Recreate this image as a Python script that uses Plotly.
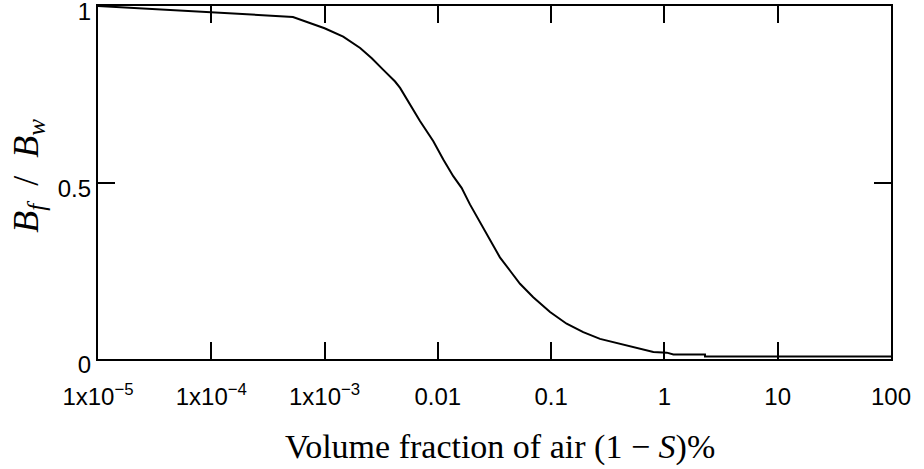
import plotly.graph_objects as go

# Curve data
air_fraction = [1e-5, 5.26e-4, 1.0e-3, 1.46e-3, 2.06e-3, 2.61e-3, 3.30e-3, 4.19e-3,
                4.64e-3, 5.68e-3, 6.95e-3, 9.12e-3, 1.117e-2,
                1.367e-2, 1.62e-2, 1.92e-2, 2.36e-2, 2.88e-2, 3.53e-2, 4.34e-2,
                5.31e-2, 6.95e-2, 9.78e-2, 0.137, 0.192, 0.270, 0.434, 0.608,
                0.798, 1.05, 1.20, 2.28, 2.28, 100]
bf_over_bw = [1.0, 0.969, 0.937, 0.913, 0.881, 0.852, 0.819, 0.786,
              0.768, 0.719, 0.674, 0.617, 0.565,
              0.518, 0.485, 0.438, 0.387, 0.335, 0.288, 0.250,
              0.213, 0.175, 0.133, 0.100, 0.076, 0.057, 0.040, 0.029,
              0.020, 0.018, 0.013, 0.013, 0.007, 0.007]

x_tick_vals = [1e-5, 1e-4, 1e-3, 0.01, 0.1, 1, 10, 100]
x_tick_text = ["1x10<sup>−5</sup>", "1x10<sup>−4</sup>", "1x10<sup>−3</sup>",
               "0.01", "0.1", "1", "10", "100"]
y_tick_vals = [0, 0.5, 1]
y_tick_text = ["0", "0.5", "1"]

W, H = 924, 469
M_L, M_R, M_T, M_B = 98, 33, 6, 104
LABEL_DROP = 6  # px: y tick labels sit slightly below their ticks in the reference
plot_h = H - M_T - M_B
d = LABEL_DROP / plot_h

fig = go.Figure()
fig.add_trace(go.Scatter(x=[None], y=[None], xaxis="x", yaxis="y2",
                         showlegend=False, hoverinfo="skip"))
fig.add_trace(go.Scatter(x=air_fraction, y=bf_over_bw, mode="lines",
                         line=dict(color="black", width=2), showlegend=False,
                         xaxis="x", yaxis="y"))

tick_font = dict(family="Liberation Sans, Arial, sans-serif", size=24, color="black")
fig.update_layout(
    xaxis=dict(type="log", range=[-5, 2], tickvals=x_tick_vals, ticktext=x_tick_text,
               ticks="inside", ticklen=17, tickwidth=2, tickcolor="black",
               showline=True, linewidth=2, linecolor="black", mirror="ticks",
               showgrid=False, zeroline=False, tickfont=tick_font, anchor="y",
               ticklabelstandoff=15, ticklabeloverflow="allow", automargin=False),
    yaxis=dict(range=[0, 1], domain=[d, 1], tickvals=y_tick_vals, showticklabels=False,
               ticks="inside", ticklen=17, tickwidth=2, tickcolor="black",
               showline=True, linewidth=2, linecolor="black", mirror="ticks",
               showgrid=False, zeroline=False, anchor="x", automargin=False),
    # label-only axis, same scale, shifted a few pixels down
    yaxis2=dict(range=[0, 1], domain=[0, 1 - d], anchor="x", side="left",
                tickvals=y_tick_vals, ticktext=y_tick_text, ticks="",
                showline=False, showgrid=False, zeroline=False,
                tickfont=tick_font, ticklabelstandoff=6, ticklabeloverflow="allow",
                automargin=False),
)

title_font = dict(family="Liberation Serif, Times New Roman, serif", size=34, color="black")
fig.add_annotation(text="Volume fraction of air (1 − <i>S</i>)%", xref="paper", yref="paper",
                   x=0.507, y=-0.228, xanchor="center", yanchor="middle",
                   showarrow=False, font=title_font)
fig.add_annotation(text="<i>B</i><sub><i>f</i></sub>\u2002/\u2002<i>B</i><sub><i>w</i></sub>",
                   xref="paper", yref="paper", x=-0.088, y=0.528, textangle=-90,
                   xanchor="center", yanchor="middle", showarrow=False,
                   font=dict(family="Liberation Serif, Times New Roman, serif", size=36,
                             color="black"))

fig.update_layout(width=W, height=H, margin=dict(l=M_L, r=M_R, t=M_T, b=M_B),
                  plot_bgcolor="rgba(0,0,0,0)", paper_bgcolor="white")
fig.write_html("out.html", config={"displayModeBar": False},
               post_script="document.body.style.margin='0';")
